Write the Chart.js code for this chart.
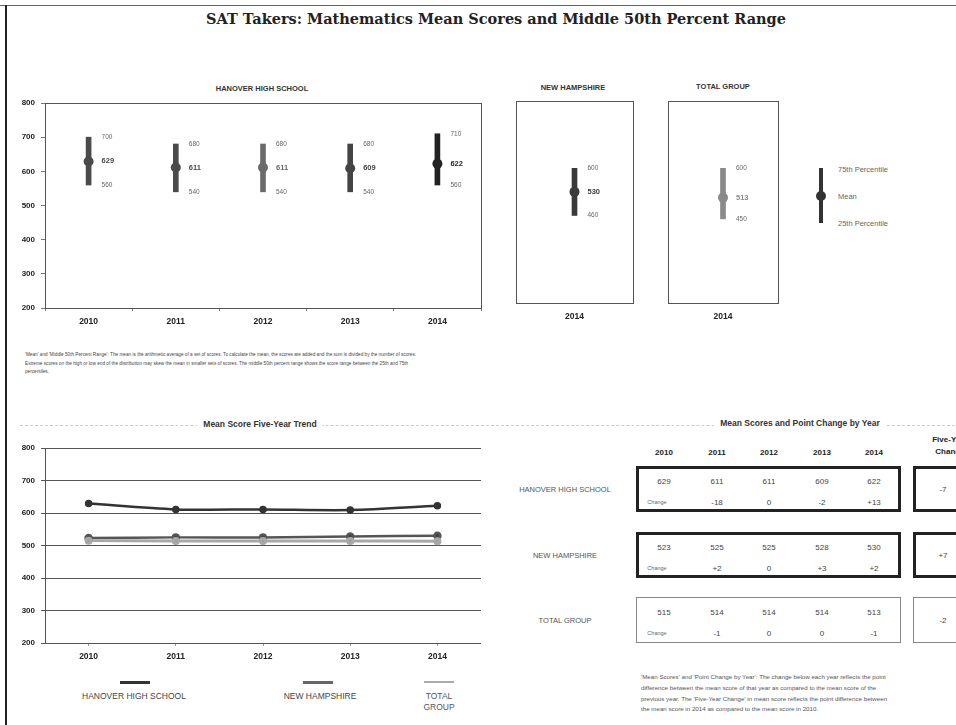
<!DOCTYPE html>
<html>
<head>
<meta charset="utf-8">
<script src="https://cdn.jsdelivr.net/npm/chart.js@4.4.1/dist/chart.umd.min.js"></script>
<style>
body { margin: 0; background: #fff; width: 956px; height: 725px; position: relative; overflow: hidden; font-family: "Liberation Sans", Arial, sans-serif; color: #333; }
.abs { position: absolute; white-space: nowrap; }
canvas { position: absolute; }
.ctitle { font-weight: bold; font-size: 7.5px; transform: translateX(-50%); color: #333; }
.note { font-size: 4.7px; line-height: 8.5px; color: #444; }
.note2 { font-size: 6.2px; line-height: 10.8px; color: #555; }
.box { position: absolute; box-sizing: border-box; }
.cell { position: absolute; transform: translate(-50%, -50%); font-size: 8px; color: #444; white-space: nowrap; }
.hdr { position: absolute; transform: translate(-50%, -50%); font-size: 8px; font-weight: bold; color: #222; white-space: nowrap; }
.rowlab { position: absolute; transform: translate(-50%, -50%); font-size: 7.5px; color: #555; white-space: nowrap; }
</style>
</head>
<body>
<!-- page border from the scan -->
<div class="abs" style="left:0;top:5px;width:956px;height:1px;background:#666"></div>
<div class="abs" style="left:5px;top:5px;width:2px;height:720px;background:#222"></div>

<div class="abs" style="left:496px;top:18px;transform:translate(-50%,-50%);font-family:'DejaVu Serif',serif;font-weight:bold;font-size:14.5px;color:#222">SAT Takers: Mathematics Mean Scores and Middle 50th Percent Range</div>

<div class="abs ctitle" style="left:262px;top:84px">HANOVER HIGH SCHOOL</div>
<div class="abs ctitle" style="left:573px;top:83px">NEW HAMPSHIRE</div>
<div class="abs ctitle" style="left:723px;top:82px">TOTAL GROUP</div>

<canvas id="hanover" width="490" height="250" style="left:0;top:90px"></canvas>
<canvas id="nh" width="130" height="240" style="left:510px;top:95px"></canvas>
<canvas id="tg" width="124" height="240" style="left:662px;top:95px"></canvas>

<!-- legend for the range markers -->
<div class="abs" style="left:819px;top:168px;width:4px;height:55px;background:#333"></div>
<div class="abs" style="left:816px;top:191px;width:10px;height:10px;border-radius:50%;background:#333"></div>
<div class="abs" style="left:838px;top:165px;font-size:7.5px;color:#666">75th Percentile</div>
<div class="abs" style="left:838px;top:192px;font-size:7.5px;color:#666">Mean</div>
<div class="abs" style="left:838px;top:219px;font-size:7.5px;color:#666">25th Percentile</div>

<div class="abs note" style="left:25px;top:351px">'Mean' and 'Middle 50th Percent Range': The mean is the arithmetic average of a set of scores. To calculate the mean, the scores are added and the sum is divided by the number of scores.<br>Extreme scores on the high or low end of the distribution may skew the mean in smaller sets of scores. The middle 50th percent range shows the score range between the 25th and 75th<br>percentiles.</div>

<div class="abs" style="left:20px;top:425px;width:935px;border-top:1px dashed #ccc"></div>
<div class="abs" style="left:260px;top:419px;transform:translateX(-50%);font-weight:bold;font-size:8.5px;background:#fff;padding:0 6px;color:#333">Mean Score Five-Year Trend</div>
<canvas id="trend" width="490" height="240" style="left:0;top:430px"></canvas>

<div class="abs" style="left:120px;top:681px;width:30px;height:3px;background:#333"></div>
<div class="abs" style="left:134px;top:691px;transform:translateX(-50%);font-size:8.5px;color:#444">HANOVER HIGH SCHOOL</div>
<div class="abs" style="left:303px;top:681px;width:30px;height:3px;background:#666"></div>
<div class="abs" style="left:320px;top:691px;transform:translateX(-50%);font-size:8.5px;color:#444">NEW HAMPSHIRE</div>
<div class="abs" style="left:424px;top:681px;width:30px;height:2px;background:#aaa"></div>
<div class="abs" style="left:439px;top:691px;transform:translateX(-50%);font-size:8.5px;line-height:11px;color:#555;text-align:center">TOTAL<br>GROUP</div>

<div class="abs" style="left:800px;top:418px;transform:translateX(-50%);font-weight:bold;font-size:8.5px;background:#fff;padding:0 6px;color:#333">Mean Scores and Point Change by Year</div>
<div id="table"></div>

<div class="abs note2" style="left:641px;top:672px">'Mean Scores' and 'Point Change by Year': The change below each year reflects the point<br>difference between the mean score of that year as compared to the mean score of the<br>previous year. The 'Five-Year Change' in mean score reflects the point difference between<br>the mean score in 2014 as compared to the mean score in 2010.</div>

<script>
const years = ['2010', '2011', '2012', '2013', '2014'];
const year2014 = ['2014'];

// Hanover High School, middle 50th percent range by year
const hanoverMean = [629, 611, 611, 609, 622];
const hanoverP75 = [700, 680, 680, 680, 710];
const hanoverP25 = [560, 540, 540, 540, 560];

// 2014 ranges for the comparison groups
const nhMean2014 = [530];
const nhP75 = [600];
const nhP25 = [460];
const tgMean2014 = [513];
const tgP75 = [600];
const tgP25 = [450];

// five-year trend
const nhMean = [523, 525, 525, 528, 530];
const tgMean = [515, 514, 514, 514, 513];

// table: point change by year
const hanoverChange = [null, '-18', '0', '-2', '+13'];
const nhChange = [null, '+2', '0', '+3', '+2'];
const tgChange = [null, '-1', '0', '0', '-1'];
const fiveYearChange = ['-7', '+7', '-2'];

const yMin = 200;
const yMax = 800;
const tickFont = { family: 'Liberation Sans', size: 8, weight: 'bold' };

const rangeLabels = {
    id: 'rangeLabels',
    afterDatasetsDraw(chart, args, o) {
        const { ctx, scales: { x, y } } = chart;
        ctx.save();
        ctx.textBaseline = 'middle';
        ctx.textAlign = 'left';
        o.mean.forEach((m, i) => {
            const px = x.getPixelForValue(i) + 13;
            ctx.font = '6.5px "Liberation Sans"';
            ctx.fillStyle = '#666';
            ctx.fillText(o.high[i], px, y.getPixelForValue(o.high[i]));
            ctx.fillText(o.low[i], px, y.getPixelForValue(o.low[i]));
            ctx.font = 'bold 7.5px "Liberation Sans"';
            ctx.fillStyle = o.colors[i];
            ctx.fillText(m, px, y.getPixelForValue(m));
        });
        ctx.restore();
    }
};

const frame = {
    id: 'frame',
    beforeDatasetsDraw(chart, args, o) {
        if (!o.color) return;
        const { ctx, chartArea: a } = chart;
        ctx.save();
        ctx.strokeStyle = o.color;
        ctx.lineWidth = 1;
        ctx.strokeRect(a.left + 0.5, a.top + 0.5, a.right - a.left, a.bottom - a.top);
        ctx.restore();
    }
};

function rangeChart(id, labels, low, high, mean, colors, showY, pad) {
    return new Chart(document.getElementById(id), {
        type: 'bar',
        data: {
            labels: labels,
            datasets: [
                {
                    type: 'line',
                    data: mean,
                    showLine: false,
                    pointRadius: 5,
                    pointBackgroundColor: colors,
                    pointBorderWidth: 0,
                    order: 0
                },
                {
                    data: low.map((v, i) => [v, high[i]]),
                    backgroundColor: colors,
                    barThickness: 5,
                    order: 1
                }
            ]
        },
        options: {
            responsive: false,
            animation: false,
            layout: { padding: pad },
            plugins: {
                legend: { display: false },
                tooltip: { enabled: false },
                rangeLabels: { mean: mean, high: high, low: low, colors: colors },
                frame: { color: '#555' }
            },
            scales: {
                x: {
                    offset: true,
                    grid: { drawOnChartArea: false, tickLength: 3, color: '#777', display: showY },
                    border: { display: false },
                    ticks: { color: '#222', font: { family: 'Liberation Sans', size: 8.5, weight: 'bold' }, padding: 6 },
                    afterFit: (s) => { s.height = 25; }
                },
                y: {
                    display: showY,
                    min: yMin,
                    max: yMax,
                    grid: { drawOnChartArea: false, tickLength: 4, color: '#777' },
                    border: { display: false },
                    ticks: { stepSize: 100, color: '#222', font: tickFont, padding: 6 },
                    afterFit: (s) => { s.width = showY ? 45 : 0; }
                }
            }
        },
        plugins: [rangeLabels, frame]
    });
}

rangeChart('hanover', years, hanoverP25, hanoverP75, hanoverMean,
    ['#4a4a4a', '#4a4a4a', '#6a6a6a', '#444', '#222'], true,
    { top: 13, right: 9, bottom: 7, left: 0 });
rangeChart('nh', year2014, nhP25, nhP75, nhMean2014, ['#3a3a3a'], false,
    { top: 6, right: 7, bottom: 7, left: 6 });
rangeChart('tg', year2014, tgP25, tgP75, tgMean2014, ['#8a8a8a'], false,
    { top: 6, right: 8, bottom: 7, left: 6 });

new Chart(document.getElementById('trend'), {
    type: 'line',
    data: {
        labels: years,
        datasets: [
            {
                label: 'TOTAL GROUP',
                data: tgMean,
                borderColor: '#a8a8a8',
                backgroundColor: '#999',
                borderWidth: 3,
                pointRadius: 2.5,
                tension: 0.3
            },
            {
                label: 'NEW HAMPSHIRE',
                data: nhMean,
                borderColor: '#555',
                backgroundColor: '#444',
                borderWidth: 2.5,
                pointRadius: 3,
                tension: 0.3
            },
            {
                label: 'HANOVER HIGH SCHOOL',
                data: hanoverMean,
                borderColor: '#333',
                backgroundColor: '#333',
                borderWidth: 2.5,
                pointRadius: 2.5,
                tension: 0.3
            }
        ]
    },
    options: {
        responsive: false,
        animation: false,
        layout: { padding: { top: 18, right: 9, bottom: 2, left: 0 } },
        plugins: {
            legend: { display: false },
            tooltip: { enabled: false }
        },
        scales: {
            x: {
                offset: true,
                grid: { drawOnChartArea: false, tickLength: 3, color: '#999' },
                border: { display: false },
                ticks: { color: '#222', font: { family: 'Liberation Sans', size: 8.5, weight: 'bold' }, padding: 6 },
                afterFit: (s) => { s.height = 25; }
            },
            y: {
                min: yMin,
                max: yMax,
                grid: { color: '#555', tickLength: 4 },
                border: { color: '#555' },
                ticks: { stepSize: 100, color: '#222', font: tickFont, padding: 6 },
                afterFit: (s) => { s.width = 45; }
            }
        }
    }
});

// table of mean scores and changes
const tableEl = document.getElementById('table');
const colX = [664, 717, 769, 822, 874];
function add(cls, text, x, y, style) {
    const d = document.createElement('div');
    d.className = cls;
    d.textContent = text;
    d.style.left = x + 'px';
    d.style.top = y + 'px';
    if (style) d.style.cssText += style;
    tableEl.appendChild(d);
}
function box(x, y, w, h, border) {
    const d = document.createElement('div');
    d.className = 'box';
    d.style.cssText = `left:${x}px;top:${y}px;width:${w}px;height:${h}px;border:${border}`;
    tableEl.appendChild(d);
}
years.forEach((yr, i) => add('hdr', yr, colX[i], 452));
add('hdr', 'Five-Year', 950, 439);
add('hdr', 'Change', 950, 451);

const rows = [
    { name: 'HANOVER HIGH SCHOOL', mean: hanoverMean, change: hanoverChange, top: 466, border: '3px solid #222' },
    { name: 'NEW HAMPSHIRE', mean: nhMean, change: nhChange, top: 532, border: '3px solid #222' },
    { name: 'TOTAL GROUP', mean: tgMean, change: tgChange, top: 597, border: '1.5px solid #888' }
];
rows.forEach((r, k) => {
    box(636, r.top, 265, 46, r.border);
    box(913, r.top, 60, 46, r.border);
    add('rowlab', r.name, 565, r.top + 23);
    r.mean.forEach((v, i) => add('cell', v, colX[i], r.top + 15));
    add('cell', 'Change', 657, r.top + 36, 'font-size:5.5px;color:#666');
    r.change.forEach((v, i) => { if (v !== null) add('cell', v, colX[i], r.top + 36); });
    add('cell', fiveYearChange[k], 943, r.top + 23);
});
</script>
</body>
</html>
